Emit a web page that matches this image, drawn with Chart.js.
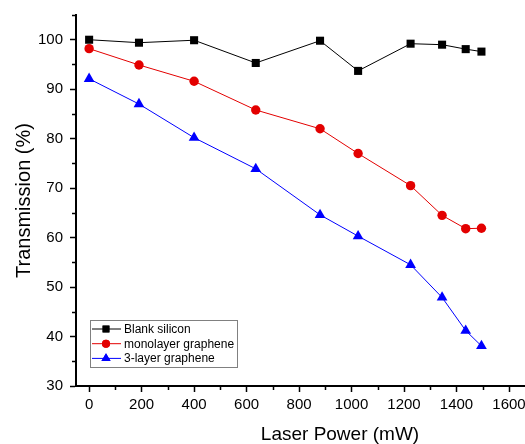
<!DOCTYPE html>
<html>
<head>
<meta charset="utf-8">
<script src="https://cdn.jsdelivr.net/npm/chart.js@4/dist/chart.umd.min.js"></script>
<style>
  html, body { margin: 0; padding: 0; background: #fff; overflow: hidden; }
  /* the figure is cropped on the right, like the original */
  #view { width: 525px; height: 444px; overflow: hidden; }
  #wrap { width: 604px; height: 444px; }
</style>
</head>
<body>
<div id="view"><div id="wrap"><canvas id="powerChart"></canvas></div></div>
<script>
// laser power (mW) for each measurement
const laserPower = [0, 190, 400, 635, 880, 1025, 1225, 1345, 1435, 1495];

// transmission (%)
const blankSilicon = [100, 99.4, 99.9, 95.3, 99.8, 93.7, 99.2, 99.0, 98.1, 97.6];
const monolayer = [98.2, 94.9, 91.6, 85.8, 82.0, 77.0, 70.5, 64.5, 61.8, 61.9];
const threeLayer = [92.1, 87.0, 80.2, 73.9, 64.6, 60.3, 54.5, 47.9, 41.2, 38.1];

const seriesNames = ['Blank silicon', 'monolayer graphene', '3-layer graphene'];

const xTicks = [0, 200, 400, 600, 800, 1000, 1200, 1400, 1600, 1800];
const xMinorTicks = [100, 300, 500, 700, 900, 1100, 1300, 1500, 1700, 1900];
const yTicks = [30, 40, 50, 60, 70, 80, 90, 100];
const yMinorTicks = [35, 45, 55, 65, 75, 85, 95, 105];

const FONT = 'Arial, "Liberation Sans", sans-serif';

function toPoints(ys) {
    return laserPower.map((x, i) => ({ x: x, y: ys[i] }));
}

// minor tick marks (Chart.js has none of its own)
const minorTicks = {
    id: 'minorTicks',
    afterDraw(chart) {
        const ctx = chart.ctx;
        const xs = chart.scales.x, ys = chart.scales.y;
        const area = chart.chartArea;
        ctx.save();
        ctx.strokeStyle = '#000';
        ctx.lineWidth = 1.5;
        ctx.beginPath();
        xMinorTicks.forEach(v => {
            const px = Math.round(xs.getPixelForValue(v)) + 0.5;
            ctx.moveTo(px, area.bottom);
            ctx.lineTo(px, area.bottom + 4);
        });
        yMinorTicks.forEach(v => {
            const py = Math.round(ys.getPixelForValue(v)) + 0.5;
            ctx.moveTo(area.left, py);
            ctx.lineTo(area.left - 4, py);
        });
        ctx.stroke();
        ctx.restore();
    }
};

// legend box drawn inside the plot, lower left
const boxLegend = {
    id: 'boxLegend',
    afterDraw(chart) {
        const ctx = chart.ctx;
        const left = 90.5, top = 320.5, w = 147, h = 47;
        ctx.save();
        ctx.fillStyle = '#fff';
        ctx.fillRect(left, top, w, h);
        ctx.strokeStyle = '#808080';
        ctx.lineWidth = 1;
        ctx.strokeRect(left, top, w, h);
        ctx.font = '12px ' + FONT;
        ctx.textBaseline = 'middle';
        chart.data.datasets.forEach((ds, i) => {
            const y = 329 + i * 14.7;
            ctx.strokeStyle = ds.borderColor;
            ctx.lineWidth = 1;
            ctx.beginPath();
            ctx.moveTo(92, y);
            ctx.lineTo(121, y);
            ctx.stroke();
            ctx.fillStyle = ds.pointBackgroundColor;
            Chart.helpers.drawPoint(ctx, {
                pointStyle: ds.pointStyle,
                radius: ds.pointRadius * 0.85,
                borderWidth: 0,
                rotation: 0
            }, 106, y);
            ctx.fill();
            ctx.fillStyle = '#000';
            ctx.fillText(ds.label, 124, y + 0.5);
        });
        ctx.restore();
    }
};

const colors = ['#000000', '#e30000', '#0000ff'];
const styles = ['rect', 'circle', 'triangle'];
const radii = [5.7, 4.7, 6.2];
const values = [blankSilicon, monolayer, threeLayer];

new Chart(document.getElementById('powerChart'), {
    type: 'scatter',
    data: {
        datasets: values.map((v, i) => ({
            label: seriesNames[i],
            data: toPoints(v),
            showLine: true,
            borderColor: colors[i],
            borderWidth: 1,
            pointStyle: styles[i],
            pointRadius: radii[i],
            pointBackgroundColor: colors[i],
            pointBorderColor: colors[i],
            pointBorderWidth: 0
        }))
    },
    options: {
        responsive: true,
        maintainAspectRatio: false,
        animation: false,
        layout: { autoPadding: false, padding: { top: 15, right: 0, left: 0, bottom: 0 } },
        plugins: { legend: { display: false }, tooltip: { enabled: false } },
        scales: {
            x: {
                type: 'linear',
                min: -50,
                max: 1962,
                afterBuildTicks: s => { s.ticks = xTicks.map(v => ({ value: v })); },
                afterFit: s => { s.height = 58; s.paddingLeft = 0; s.paddingRight = 0; },
                ticks: {
                    color: '#000',
                    font: { family: FONT, size: 15 },
                    padding: 4,
                    maxRotation: 0,
                    autoSkip: false,
                    callback: v => String(v)
                },
                grid: { drawOnChartArea: false, drawTicks: true, tickLength: 6, tickWidth: 1.5, tickColor: '#000' },
                border: { display: true, color: '#000', width: 2 },
                title: {
                    display: true,
                    text: 'Laser Power (mW)',
                    color: '#000',
                    font: { family: FONT, size: 19 },
                    padding: { top: 0, bottom: -2 }
                }
            },
            y: {
                min: 30,
                max: 105,
                afterBuildTicks: s => { s.ticks = yTicks.map(v => ({ value: v })); },
                afterFit: s => { s.width = 76; s.paddingTop = 0; s.paddingBottom = 0; },
                ticks: {
                    color: '#000',
                    font: { family: FONT, size: 15 },
                    padding: 7,
                    callback: v => String(v)
                },
                grid: { drawOnChartArea: false, drawTicks: true, tickLength: 6, tickWidth: 1.5, tickColor: '#000' },
                border: { display: true, color: '#000', width: 2 },
                title: {
                    display: true,
                    text: 'Transmission (%)',
                    color: '#000',
                    font: { family: FONT, size: 20 },
                    padding: { top: 12, bottom: 0 }
                }
            }
        }
    },
    plugins: [minorTicks, boxLegend]
});
</script>
</body>
</html>
